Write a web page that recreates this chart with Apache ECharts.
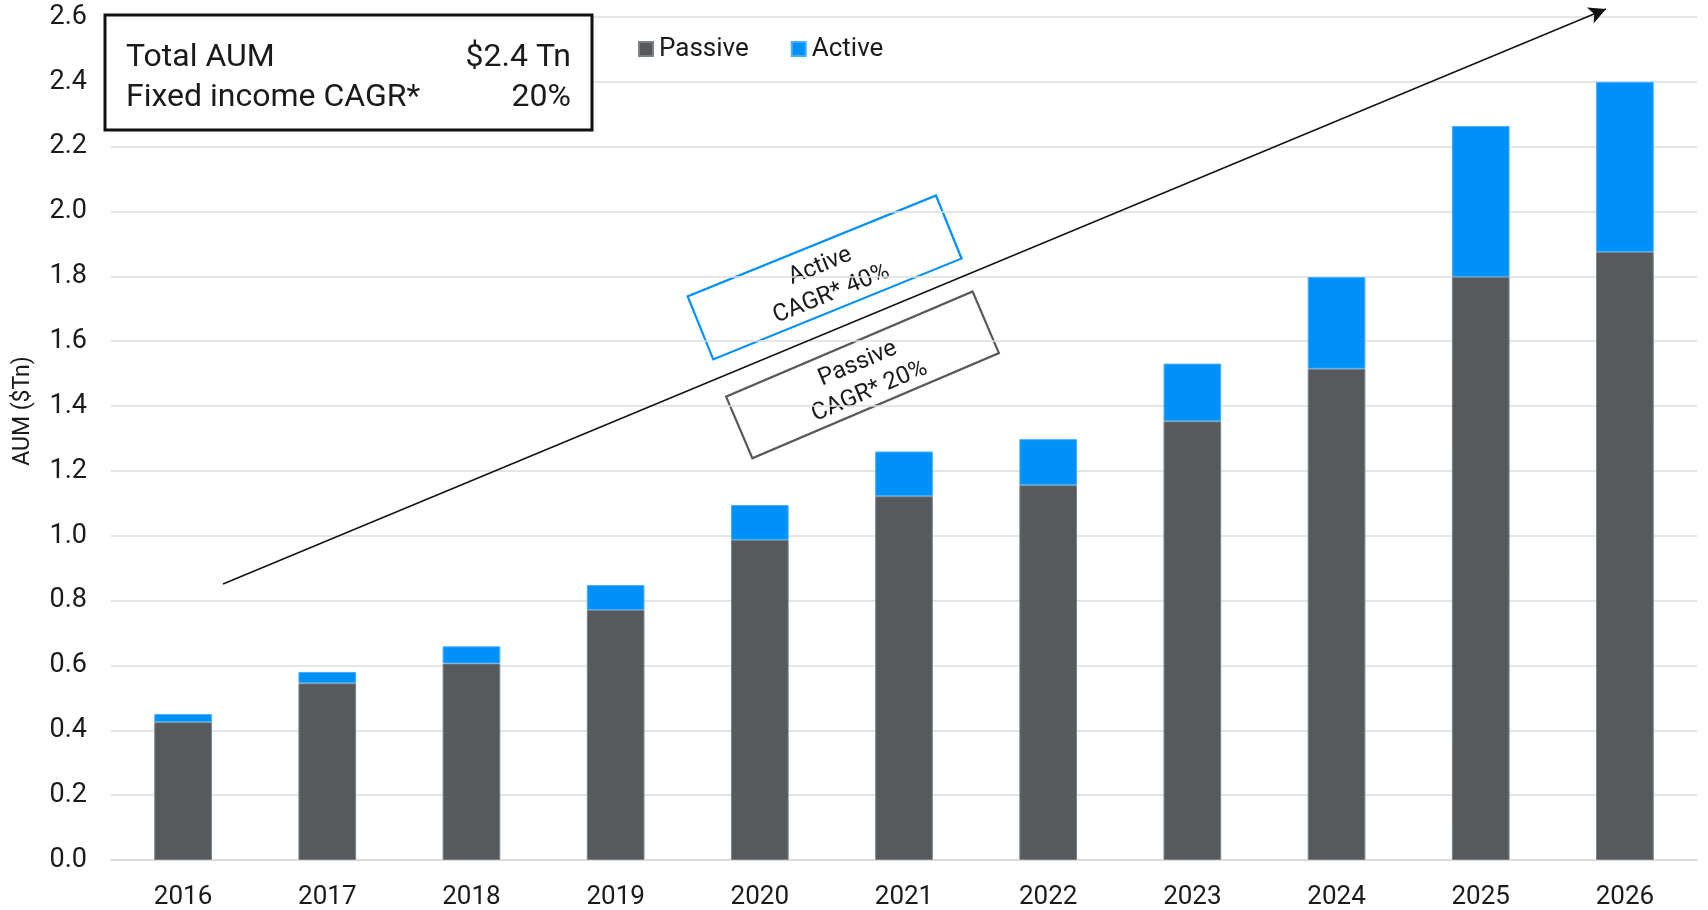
<!DOCTYPE html>
<html>
<head>
<meta charset="utf-8">
<title>AUM ($Tn)</title>
<script src="https://cdn.jsdelivr.net/npm/echarts@6/dist/echarts.min.js"></script>
<style>
  html, body { margin: 0; padding: 0; background: #ffffff; }
  #chart { width: 1708px; height: 910px; }
</style>
</head>
<body>
<div id="chart"></div>
<script>
// Fixed income ETF assets under management, $ trillions
const years = ['2016', '2017', '2018', '2019', '2020', '2021', '2022', '2023', '2024', '2025', '2026'];
const passiveValues = [0.425, 0.545, 0.606, 0.771, 0.987, 1.122, 1.156, 1.353, 1.515, 1.798, 1.875];
const activeValues  = [0.025, 0.035, 0.053, 0.077, 0.108, 0.138, 0.142, 0.178, 0.283, 0.466, 0.525];

const summaryRows = [
  ['Total AUM', '$2.4 Tn'],
  ['Fixed income CAGR*', '20%']
];
const activeNote = 'Active\nCAGR* 40%';
const passiveNote = 'Passive\nCAGR* 20%';

const FONT = 'Roboto, "Liberation Sans", sans-serif';
const INK = '#1a1a1a';
const PASSIVE = '#575a5d';
const ACTIVE = '#0091f8';
const GRID = '#dcdcdc';

const chart = echarts.init(document.getElementById('chart'), null, { renderer: 'canvas' });

// Tilted annotation box with two centred lines of text
function noteBox(cx, cy, w, h, deg, color, text) {
  return {
    type: 'group',
    x: cx, y: cy,
    rotation: deg * Math.PI / 180,
    z: 100,
    children: [
      {
        type: 'rect',
        shape: { x: -w / 2, y: -h / 2, width: w, height: h },
        style: { fill: '#ffffff', stroke: color, lineWidth: 2.2 }
      },
      {
        type: 'text',
        x: 0, y: 3,
        style: {
          text: text,
          font: '24px ' + FONT,
          fill: INK,
          align: 'center',
          verticalAlign: 'middle',
          lineHeight: 30
        }
      }
    ]
  };
}

const summaryGraphics = [
  {
    type: 'rect',
    shape: { x: 105, y: 15, width: 487, height: 115 },
    style: { fill: '#ffffff', stroke: '#111111', lineWidth: 3 },
    z: 100
  }
];
summaryRows.forEach(function (row, i) {
  const y = 58 + i * 40;
  summaryGraphics.push({
    type: 'text', x: 126, y: y, z: 101,
    style: { text: row[0], font: '32px ' + FONT, fill: INK, align: 'left', verticalAlign: 'middle' }
  });
  summaryGraphics.push({
    type: 'text', x: 571, y: y, z: 101,
    style: { text: row[1], font: '32px ' + FONT, fill: INK, align: 'right', verticalAlign: 'middle' }
  });
});

const option = {
  backgroundColor: '#ffffff',
  animation: false,
  textStyle: { fontFamily: FONT },
  grid: { left: 111, right: 11, top: 17, bottom: 49, containLabel: false },
  legend: {
    data: ['Passive', 'Active'],
    left: 633, top: 31,
    itemWidth: 14, itemHeight: 14,
    itemGap: 42,
    icon: 'rect',
    textStyle: { fontSize: 26, color: INK, fontFamily: FONT, padding: [0, 0, 0, 1] }
  },
  xAxis: {
    type: 'category',
    data: years,
    axisLine: { show: true, lineStyle: { color: GRID, width: 2 } },
    axisTick: { show: false },
    axisLabel: { fontSize: 26, color: INK, margin: 24, fontFamily: FONT }
  },
  yAxis: {
    type: 'value',
    min: 0, max: 2.6, interval: 0.2,
    axisLine: { show: false },
    axisTick: { show: false },
    splitLine: { show: true, lineStyle: { color: GRID, width: 1.5 } },
    axisLabel: {
      fontSize: 27, color: INK, margin: 24, fontFamily: FONT,
      formatter: function (v) { return v.toFixed(1); }
    }
  },
  series: [
    {
      name: 'Passive',
      type: 'bar',
      stack: 'aum',
      barWidth: '40%',
      data: passiveValues,
      itemStyle: { color: PASSIVE, borderColor: '#7d8084', borderWidth: 1 },
      markLine: {
        silent: true,
        symbol: ['none', 'arrow'],
        symbolSize: [13, 17],
        label: { show: false },
        lineStyle: { color: '#111111', width: 1.4, type: 'solid' },
        data: [[{ x: 223, y: 584 }, { x: 1606, y: 9 }]],
        z: 50
      }
    },
    {
      name: 'Active',
      type: 'bar',
      stack: 'aum',
      barWidth: '40%',
      data: activeValues,
      itemStyle: { color: ACTIVE, borderColor: '#47aef9', borderWidth: 1 }
    }
  ],
  graphic: summaryGraphics.concat([
    noteBox(824.6, 277.4, 268, 68, 22.1, ACTIVE, activeNote),
    noteBox(862.5, 374.9, 268, 67, 23.1, '#595959', passiveNote),
    {
      type: 'text',
      x: 23, y: 411,
      rotation: Math.PI / 2,
      z: 100,
      style: {
        text: 'AUM ($Tn)', font: '23px ' + FONT, fill: INK,
        align: 'center', verticalAlign: 'middle'
      }
    }
  ])
};

chart.setOption(option);
</script>
</body>
</html>
